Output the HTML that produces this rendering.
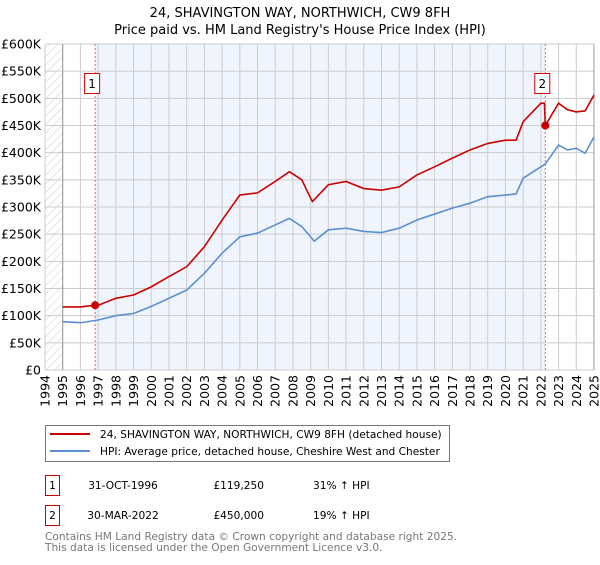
<!DOCTYPE html>
<html><head><meta charset="utf-8"><style>
body{margin:0;background:#fff;font-family:"Liberation Sans","DejaVu Sans",sans-serif;}
svg text{font-family:"DejaVu Sans","Liberation Sans",sans-serif;}
</style></head><body>
<svg id="chart" width="600" height="560" xmlns="http://www.w3.org/2000/svg">
<defs><pattern id="hatch" width="6" height="6" patternUnits="userSpaceOnUse" patternTransform="rotate(45)"><line x1="0" y1="0" x2="0" y2="6" stroke="#ccc" stroke-width="1"/></pattern></defs>
<text x="300" y="17" text-anchor="middle" font-size="13">24, SHAVINGTON WAY, NORTHWICH, CW9 8FH</text>
<text x="300" y="34" text-anchor="middle" font-size="13">Price paid vs. HM Land Registry's House Price Index (HPI)</text>
<g id="plot"></g>
<g>
<rect x="45.5" y="425.5" width="404" height="36" fill="#fff" stroke="#777"/>
<line x1="50" y1="434" x2="90" y2="434" stroke="#cc0000" stroke-width="2"/>
<text x="100" y="438" font-size="10.6">24, SHAVINGTON WAY, NORTHWICH, CW9 8FH (detached house)</text>
<line x1="50" y1="451" x2="90" y2="451" stroke="#5b8fd0" stroke-width="2"/>
<text x="100" y="455" font-size="10.6">HPI: Average price, detached house, Cheshire West and Chester</text>
</g>
<g font-size="10.6">
<rect x="45.5" y="475.5" width="14" height="20" fill="#fff" stroke="#cc0000"/>
<text x="52.5" y="489" text-anchor="middle">1</text>
<text x="123" y="489" text-anchor="middle">31-OCT-1996</text>
<text x="264" y="489" text-anchor="end">£119,250</text>
<text x="313" y="489">31% ↑ HPI</text>
<rect x="45.5" y="505.5" width="14" height="20" fill="#fff" stroke="#cc0000"/>
<text x="52.5" y="519" text-anchor="middle">2</text>
<text x="123" y="519" text-anchor="middle">30-MAR-2022</text>
<text x="264" y="519" text-anchor="end">£450,000</text>
<text x="313" y="519">19% ↑ HPI</text>
</g>
<text x="45" y="540" font-size="10.6" fill="#777">Contains HM Land Registry data © Crown copyright and database right 2025.</text>
<text x="45" y="551" font-size="10.6" fill="#777">This data is licensed under the Open Government Licence v3.0.</text>
</svg>
<script>
const hpiYears=[1995,1996,1997,1998,1999,2000,2001,2002,2003,2004,2005,2006,2007,2007.8,2008.5,2009,2009.2,2010,2011,2012,2013,2014,2015,2016,2017,2018,2019,2020,2020.6,2021,2022,2022.25,2023,2023.5,2024,2024.5,2025];
const hpiValues=[89,87,92,100,104,117,132,147,178,215,245,252,267,279,264,245,237,258,261,255,253,261,276,287,298,307,319,322,324,353,374,379,414,405,408,399,429];
const priceYears=[1995,1996,1996.83,1997,1998,1999,2000,2001,2002,2003,2004,2005,2006,2007,2007.8,2008.5,2009,2009.1,2010,2011,2012,2013,2014,2015,2016,2017,2018,2019,2020,2020.6,2021,2022,2022.2,2022.25,2023,2023.5,2024,2024.5,2025];
const priceValues=[116,116,119.25,119,132,138,153,172,190,227,276,322,326,347,365,350,316,310,341,347,334,331,337,359,374,390,405,417,423,423,457,491,491,450,491,479,475,477,506];
const yTicks=[0,50,100,150,200,250,300,350,400,450,500,550,600];
const yTickLabels=["£0","£50K","£100K","£150K","£200K","£250K","£300K","£350K","£400K","£450K","£500K","£550K","£600K"];
const xTicks=[1994,1995,1996,1997,1998,1999,2000,2001,2002,2003,2004,2005,2006,2007,2008,2009,2010,2011,2012,2013,2014,2015,2016,2017,2018,2019,2020,2021,2022,2023,2024,2025];
const sales=[[1996.83,119.25,"1"],[2022.25,450,"2"]];
const NS="http://www.w3.org/2000/svg";
const X=y=>45+(y-1994)*(594-45)/31;
const Y=v=>370-v*326/600;
const g=document.getElementById('plot');
function mk(t,a,p){const e=document.createElementNS(NS,t);for(const k in a)e.setAttribute(k,a[k]);(p||g).appendChild(e);return e;}
let e;
e=mk('rect',{x:X(1994),y:Y(600),width:X(1995)-X(1994),height:Y(0)-Y(600),fill:'url(#hatch)'});


e=mk('rect',{x:X(sales[0][0]),y:Y(600),width:X(sales[1][0])-X(sales[0][0]),height:Y(0)-Y(600),fill:'#f0f4fd'});


yTicks.forEach((t,i)=>{
 e=mk('line',{x1:X(1994),x2:X(2025),y1:Y(t),y2:Y(t),stroke:'#ccc'});
 
 
 e=mk('text',{x:41,y:Y(t)+4.5,'text-anchor':'end','font-size':'12.5'});e.textContent=yTickLabels[i];
 
 
});
xTicks.forEach(t=>{
 e=mk('line',{x1:X(t),x2:X(t),y1:Y(600),y2:Y(0),stroke:'#ccc'});
 
 
 e=mk('text',{x:0,y:0,'font-size':'12.5','text-anchor':'end',transform:`translate(${X(t)+4.5},375) rotate(-90)`});e.textContent=t;
 
 
});
e=mk('line',{x1:X(1995),x2:X(1995),y1:Y(600),y2:Y(0),stroke:'#999'});


e=mk('line',{x1:X(2025),x2:X(2025),y1:Y(600),y2:Y(0),stroke:'#999'});


sales.forEach(s=>{
 e=mk('line',{x1:X(s[0]),x2:X(s[0]),y1:Y(600),y2:Y(0),stroke:'#f06060','stroke-dasharray':'2,2'});
 
 
});
function line(xs,vs,c,name){
 e=mk('polyline',{points:xs.map((x,i)=>X(x)+','+Y(vs[i])).join(' '),fill:'none',stroke:c,'stroke-width':1.6});
 
 
}
line(hpiYears,hpiValues,'#5b8fd0','hpi-line');
line(priceYears,priceValues,'#cc0000','price-line');
sales.forEach(s=>{
 e=mk('circle',{cx:X(s[0]),cy:Y(s[1]),r:4,fill:'#cc0000'});
 
 
 e=mk('rect',{x:X(s[0])-10.5,y:73.5,width:15,height:20,fill:'#fff',stroke:'#cc0000'});
 
 
 e=mk('text',{x:X(s[0])-3,y:88,'text-anchor':'middle','font-size':'12'});e.textContent=s[2];
 
 
});
</script>
</body></html>
